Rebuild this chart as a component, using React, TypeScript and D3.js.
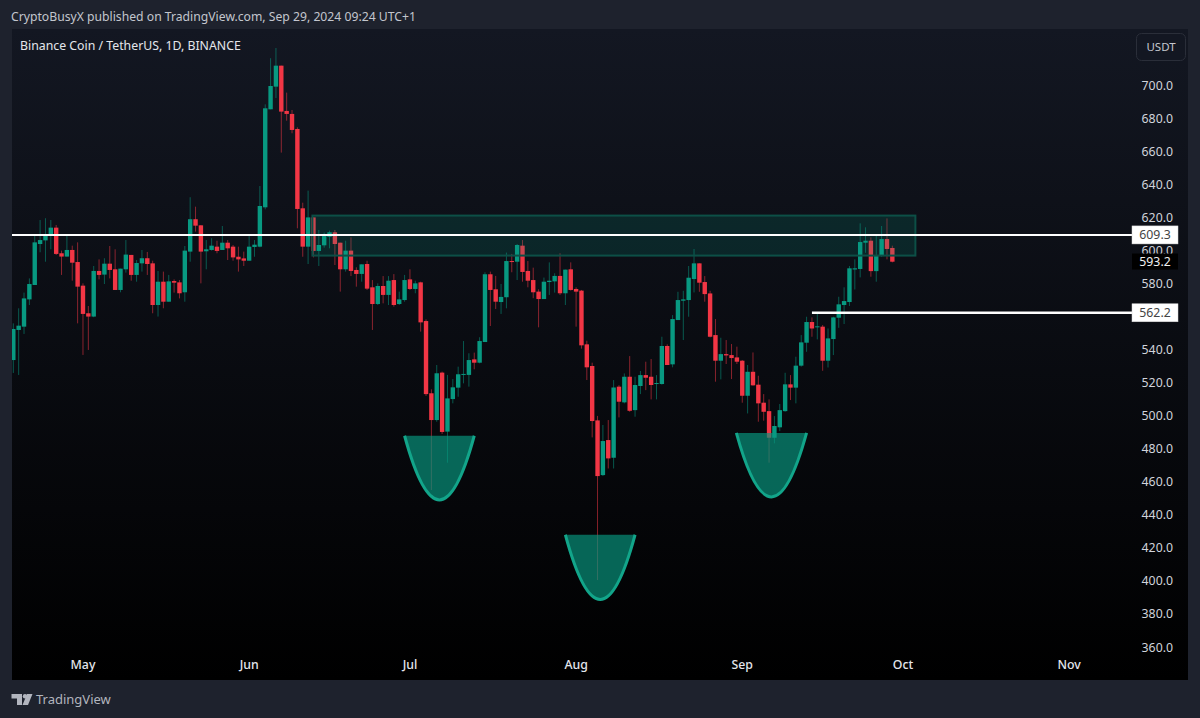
import * as d3 from 'd3';

// daily BNB/USDT candles, one per day from 18 Apr 2024
const firstDay = Date.UTC(2024, 3, 18);
const DAY = 86400000;

const opens = [
  533.6, 551.8, 553.8, 570.3, 579.0, 603.8, 606.0, 608.9, 613.7, 598.2, 596.2, 600.2, 592.9, 578.6, 561.9, 559.9,
  587.5, 585.3, 591.9, 588.5, 576.0, 588.5, 597.2, 585.1, 592.1, 595.2, 592.1, 566.9, 581.0, 568.9, 581.4, 580.6,
  574.6, 599.2, 618.8, 615.1, 599.4, 600.2, 602.2, 600.2, 604.6, 602.2, 596.1, 595.1, 593.7, 602.0, 602.2, 626.0,
  685.3, 699.0, 711.7, 684.3, 682.5, 673.4, 625.4, 602.2, 619.9, 599.6, 603.0, 608.2, 610.9, 604.6, 588.5, 599.8,
  588.1, 585.7, 591.7, 577.6, 567.5, 578.4, 573.0, 582.0, 567.5, 569.9, 582.4, 576.6, 580.6, 557.2, 513.5, 497.3,
  526.0, 490.3, 510.0, 516.9, 524.6, 524.6, 534.0, 532.0, 544.5, 585.5, 576.4, 568.7, 571.6, 593.5, 593.1, 602.8,
  587.5, 582.0, 575.0, 570.5, 580.8, 581.2, 584.5, 574.0, 588.5, 576.6, 575.6, 543.1, 530.0, 497.1, 464.0, 485.2,
  474.5, 517.5, 508.0, 523.5, 503.3, 517.9, 524.5, 523.5, 519.1, 519.1, 542.1, 531.0, 557.8, 569.5, 569.9, 582.6,
  592.1, 580.8, 573.9, 548.7, 533.2, 537.2, 536.6, 535.2, 533.2, 512.0, 526.5, 518.7, 507.8, 502.7, 486.6, 492.9,
  502.7, 518.9, 516.9, 530.2, 544.1, 556.6, 553.4, 553.8, 533.2, 546.3, 559.2, 566.9, 568.7, 588.4, 588.7, 604.6,
  605.8, 587.4, 596.5, 606.8, 601.4,
];
const closes = [
  552.4, 554.4, 570.9, 579.6, 604.8, 606.2, 608.9, 613.7, 597.8, 596.2, 600.2, 592.5, 578.0, 561.5, 559.9, 587.5,
  585.1, 591.9, 588.1, 576.0, 588.9, 597.4, 585.1, 592.3, 595.2, 591.7, 566.9, 581.0, 568.9, 581.2, 580.4, 574.0,
  599.8, 618.8, 614.9, 599.2, 600.6, 602.8, 599.6, 604.6, 601.2, 595.7, 594.5, 593.7, 602.2, 603.4, 626.8, 685.9,
  699.4, 711.7, 683.9, 682.5, 672.8, 625.0, 602.2, 619.9, 599.6, 603.2, 608.6, 610.9, 603.8, 588.5, 599.8, 587.5,
  585.7, 591.5, 576.8, 567.5, 578.4, 573.0, 581.6, 566.9, 570.3, 582.0, 576.6, 580.0, 556.4, 513.0, 497.3, 525.6,
  490.1, 510.4, 517.1, 525.0, 525.2, 533.6, 532.0, 545.1, 585.5, 576.0, 568.9, 571.8, 593.5, 592.9, 603.2, 586.9,
  581.6, 574.6, 570.5, 581.0, 581.6, 584.5, 574.0, 588.3, 576.0, 575.0, 542.5, 529.2, 496.7, 463.4, 484.6, 474.1,
  517.0, 508.4, 523.5, 502.9, 518.5, 524.5, 522.9, 518.5, 519.7, 542.1, 530.6, 558.4, 569.9, 570.3, 583.4, 592.1,
  580.4, 573.5, 547.7, 533.2, 537.2, 536.4, 534.8, 532.6, 512.0, 526.5, 518.3, 507.4, 502.3, 486.6, 493.7, 503.3,
  518.9, 516.9, 530.2, 544.3, 556.6, 552.7, 554.0, 533.2, 546.7, 559.4, 567.3, 569.3, 589.1, 589.1, 605.0, 605.8,
  587.4, 596.7, 606.8, 600.8, 593.1,
];
const highs = [
  555.8, 564.9, 574.4, 583.0, 609.3, 618.3, 619.4, 618.3, 615.3, 599.8, 609.3, 602.8, 604.8, 580.0, 566.3, 590.5,
  594.5, 595.2, 602.6, 600.6, 588.9, 606.2, 597.2, 594.1, 600.2, 599.0, 593.7, 587.5, 587.1, 585.1, 582.4, 582.0,
  602.6, 632.1, 626.4, 615.3, 606.2, 607.3, 605.8, 614.7, 606.2, 603.2, 602.2, 599.2, 608.6, 606.2, 638.9, 688.3,
  716.2, 722.4, 711.7, 695.4, 684.9, 674.4, 628.8, 636.1, 619.9, 612.3, 610.7, 611.9, 612.3, 604.6, 605.8, 607.8,
  589.7, 591.5, 593.7, 582.0, 580.0, 584.4, 584.4, 585.6, 575.0, 585.1, 588.5, 581.6, 581.0, 558.2, 515.9, 530.6,
  526.6, 524.6, 522.1, 529.6, 545.1, 537.7, 538.1, 547.4, 586.7, 587.1, 584.5, 579.6, 598.6, 597.8, 603.8, 606.2,
  593.5, 589.5, 576.4, 583.5, 592.7, 586.1, 598.2, 588.3, 592.7, 577.6, 576.0, 545.3, 532.0, 499.8, 494.3, 497.3,
  521.5, 518.4, 525.5, 536.0, 523.5, 527.0, 532.6, 534.2, 524.5, 547.7, 543.1, 560.8, 574.9, 575.5, 590.5, 600.8,
  592.1, 584.4, 575.5, 558.4, 547.1, 545.7, 543.3, 541.7, 533.6, 530.6, 538.2, 524.1, 513.0, 509.8, 499.7, 507.0,
  525.9, 524.5, 535.6, 548.7, 559.8, 559.4, 561.8, 554.8, 552.7, 559.8, 571.9, 577.6, 590.5, 594.5, 616.3, 613.9,
  607.8, 609.2, 614.7, 619.3, 602.8,
];
const lows = [
  525.8, 524.6, 549.4, 566.9, 579.0, 598.8, 593.1, 600.6, 597.2, 585.1, 596.2, 581.6, 555.8, 536.7, 539.7, 559.5,
  582.4, 579.6, 583.0, 576.0, 574.6, 586.5, 581.6, 581.0, 587.1, 585.1, 561.9, 559.9, 564.9, 568.9, 574.4, 570.9,
  568.9, 593.1, 611.3, 580.0, 588.5, 599.8, 598.2, 600.2, 594.1, 593.7, 587.1, 590.5, 593.7, 596.1, 601.8, 624.8,
  685.3, 692.1, 659.1, 678.4, 670.8, 613.3, 596.1, 591.7, 595.7, 590.5, 601.6, 601.2, 591.1, 575.0, 587.1, 584.4,
  578.0, 581.0, 576.0, 551.8, 566.9, 567.9, 566.9, 565.9, 566.9, 568.9, 576.0, 574.0, 550.8, 511.9, 455.0, 496.3,
  488.9, 471.5, 507.4, 511.4, 519.5, 517.5, 528.0, 531.6, 544.5, 554.2, 564.5, 561.5, 564.9, 586.7, 582.0, 581.0,
  577.6, 571.0, 553.4, 570.5, 573.0, 574.4, 573.0, 566.9, 575.6, 553.8, 540.5, 521.5, 486.8, 400.5, 463.4, 468.0,
  468.0, 498.9, 507.4, 502.3, 499.3, 513.0, 515.4, 509.8, 509.8, 518.7, 530.6, 529.2, 557.8, 545.7, 559.8, 574.5,
  574.9, 568.9, 547.3, 520.5, 521.9, 531.2, 522.1, 531.2, 507.8, 501.3, 518.1, 496.3, 496.9, 471.5, 483.2, 490.6,
  502.3, 509.4, 507.4, 529.6, 538.6, 547.7, 546.1, 527.1, 529.1, 536.6, 553.1, 555.4, 566.3, 576.3, 583.6, 598.5,
  584.0, 581.0, 596.1, 594.5, 592.7,
];

const priceTicks = [700, 680, 660, 640, 620, 600, 580, 560, 540, 520, 500, 480, 460, 440, 420, 400, 380, 360];
const monthTicks = [
  { label: 'May', date: Date.UTC(2024, 4, 1) },
  { label: 'Jun', date: Date.UTC(2024, 5, 1) },
  { label: 'Jul', date: Date.UTC(2024, 6, 1) },
  { label: 'Aug', date: Date.UTC(2024, 7, 1) },
  { label: 'Sep', date: Date.UTC(2024, 8, 1) },
  { label: 'Oct', date: Date.UTC(2024, 9, 1) },
  { label: 'Nov', date: Date.UTC(2024, 10, 1) },
];

// drawings on the chart, in days from the first candle and prices
const zoneDays = [55.8, 168.3];
const zonePrices = [621, 596.8];
const resistance = 609.3;
const neckline = { day: 149, price: 562.2 };
const lastPrice = 593.2;
const bowls = [
  { from: 73, to: 86, top: 487.8, bottom: 449 },
  { from: 103, to: 116, top: 427.9, bottom: 388.8 },
  { from: 134.9, to: 148, top: 489.5, bottom: 450.8 },
];

const W = 1200;
const H = 718;
const plot = { left: 12, right: 1188, top: 29, bottom: 680 };
const labelX = 1132;
const uiFont = '"Noto Sans", sans-serif';

const x = d3
  .scaleUtc()
  .domain([firstDay, Date.UTC(2024, 10, 1)])
  .range([13.3, 13.3 + 197 * 5.36]);
const y = d3.scaleLinear().domain([700, 360]).range([85, 647]);
const xDay = (d: number) => x(firstDay + d * DAY);

function bowlPath(b: { from: number; to: number; top: number; bottom: number }, close: boolean) {
  const p = d3.path();
  const x0 = xDay(b.from);
  const x1 = xDay(b.to);
  const yTop = y(b.top);
  // a quadratic reaches halfway to its control point
  p.moveTo(x0, yTop);
  p.quadraticCurveTo((x0 + x1) / 2, yTop + 2 * (y(b.bottom) - yTop), x1, yTop);
  if (close) p.closePath();
  return p.toString();
}

function PriceTag({ price, dark }: { price: number; dark?: boolean }) {
  const h = dark ? 16 : 18;
  return (
    <g>
      <rect
        x={labelX}
        y={y(price) - h / 2}
        width={46}
        height={h}
        fill={dark ? '#000' : '#fff'}
        stroke={dark ? 'none' : '#d5d5d5'}
        strokeWidth={0.5}
      />
      <text
        x={1155}
        y={y(price) + 4.5}
        textAnchor="middle"
        fontFamily={uiFont}
        fontSize={12.3}
        fill={dark ? '#f0f0f0' : '#444'}
      >
        {price.toFixed(1)}
      </text>
    </g>
  );
}

export default function App() {
  return (
    <svg
      width={W}
      height={H}
      viewBox={`0 0 ${W} ${H}`}
      style={{ position: 'absolute', left: 0, top: 0, display: 'block' }}
    >
      <defs>
        <linearGradient id="bg" x1="0" y1="0" x2="0" y2="1">
          <stop offset="0" stopColor="#131722" />
          <stop offset="1" stopColor="#000" />
        </linearGradient>
        <clipPath id="plotClip">
          <rect x={plot.left} y={plot.top} width={plot.right - plot.left} height={plot.bottom - plot.top} />
        </clipPath>
      </defs>

      <rect width={W} height={H} fill="#1e222d" />
      <rect
        x={plot.left}
        y={plot.top}
        width={plot.right - plot.left}
        height={plot.bottom - plot.top}
        fill="url(#bg)"
      />

      <text x={11} y={21} fontFamily={uiFont} fontSize={12.2} fill="#c3c6ce">
        CryptoBusyX published on TradingView.com, Sep 29, 2024 09:24 UTC+1
      </text>
      <text x={20} y={50} fontFamily={uiFont} fontSize={12.3} fill="#e4e6ec">
        Binance Coin / TetherUS, 1D, BINANCE
      </text>

      {/* candles */}
      <g clipPath="url(#plotClip)">
        {opens.map((o, i) => {
          const up = closes[i] >= o;
          const color = up ? '#089981' : '#f23645';
          const cx = xDay(i);
          const top = y(Math.max(o, closes[i]));
          const bottom = y(Math.min(o, closes[i]));
          return (
            <g key={i}>
              <line x1={cx} x2={cx} y1={y(highs[i])} y2={y(lows[i])} stroke={color} strokeOpacity={0.55} />
              <rect x={cx - 2.2} y={top} width={4.4} height={Math.max(bottom - top, 1)} fill={color} />
            </g>
          );
        })}
      </g>

      {/* resistance zone */}
      <rect
        x={xDay(zoneDays[0])}
        y={y(zonePrices[0])}
        width={xDay(zoneDays[1]) - xDay(zoneDays[0])}
        height={y(zonePrices[1]) - y(zonePrices[0])}
        fill="#089981"
        fillOpacity={0.17}
        stroke="#0c4f46"
        strokeWidth={2}
      />

      {/* bowls under the three lows */}
      {bowls.map((b, i) => (
        <g key={i}>
          <path d={bowlPath(b, true)} fill="#089981" fillOpacity={0.66} />
          <path d={bowlPath(b, false)} fill="none" stroke="#12a58a" strokeWidth={3} />
        </g>
      ))}

      <line x1={plot.left} x2={labelX} y1={y(resistance)} y2={y(resistance)} stroke="#fff" strokeWidth={2} />
      <line x1={xDay(neckline.day)} x2={labelX} y1={y(neckline.price)} y2={y(neckline.price)} stroke="#fff" strokeWidth={2.5} />

      {/* price axis */}
      {priceTicks.map(t => (
        <text
          key={t}
          x={1173}
          y={y(t) + 4.5}
          textAnchor="end"
          fontFamily={uiFont}
          fontSize={12.3}
          fill="#d1d4dc"
        >
          {t.toFixed(1)}
        </text>
      ))}
      <PriceTag price={lastPrice} dark />
      <PriceTag price={resistance} />
      <PriceTag price={neckline.price} />

      <rect x={1136.5} y={33.5} width={49} height={27} rx={5} fill="#131722" stroke="#2a2e39" />
      <text x={1161} y={51} textAnchor="middle" fontFamily={uiFont} fontSize={11.5} fill="#c3c6ce">
        USDT
      </text>

      {/* time axis */}
      {monthTicks.map(m => (
        <text
          key={m.label}
          x={x(m.date)}
          y={669}
          textAnchor="middle"
          fontFamily={uiFont}
          fontSize={12.3}
          fontWeight={500}
          fill="#e4e6ec"
        >
          {m.label}
        </text>
      ))}

      {/* footer logo */}
      <g fill="#b2b5be">
        <path d="M11.5 694 H22 V705 H17 V698.5 H11.5 Z" />
        <circle cx={25} cy={696.3} r={2.2} />
        <path d="M27 694 H32.5 L28 705 H22.5 Z" />
      </g>
      <text x={36} y={704} fontFamily={uiFont} fontSize={13} fill="#b2b5be">
        TradingView
      </text>
    </svg>
  );
}
